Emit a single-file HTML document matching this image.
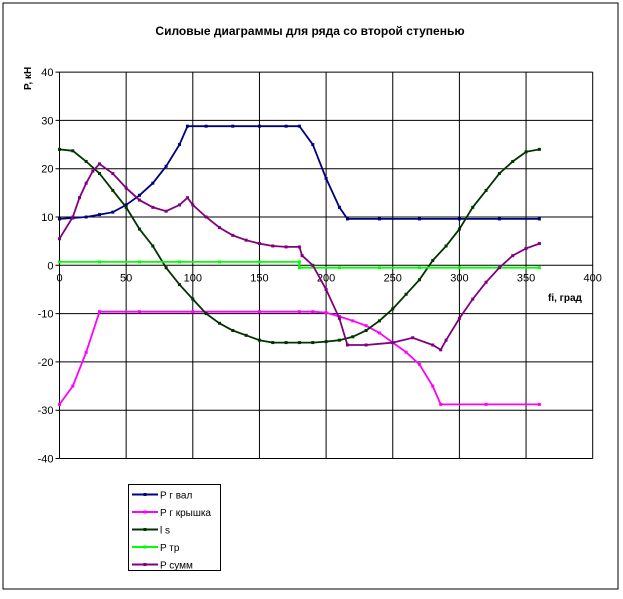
<!DOCTYPE html>
<html><head><meta charset="utf-8"><style>
body{margin:0;background:#fff;font-family:"Liberation Sans",Arial,sans-serif}
svg text{font-family:"Liberation Sans",Arial,sans-serif}
</style></head><body>
<svg id="c" width="623" height="594" xmlns="http://www.w3.org/2000/svg">
<rect x="3" y="3" width="615" height="586" fill="#fff" stroke="#000" stroke-width="1"/>
<text x="310" y="35" text-anchor="middle" font-size="12" font-weight="bold">Силовые диаграммы для ряда со второй ступенью</text>
<text transform="translate(31,90) rotate(-90)" font-size="10" font-weight="bold">P, кН</text>
<text x="548" y="301" font-size="10" font-weight="bold">fi, град</text>
<g id="grid"></g><g id="series"></g>
<g>
<rect x="128.5" y="484.5" width="92" height="86" fill="#fff" stroke="#000"/>
<g id="leg"></g>
</g>
</svg>
<script>
const xTicks=[0,50,100,150,200,250,300,350,400];
const yTicks=[40,30,20,10,0,-10,-20,-30,-40];
const seriesNames=["P г вал","P г крышка","l s","P тр","P сумм"];
const seriesColors=["#000080","#FF00FF","#003300","#00FF00","#800080"];
const pgValX=[0,10,20,30,40,50,60,70,80,90,96,110,130,150,170,180,190,200,210,216,240,270,300,330,360];
const pgValY=[9.6,9.8,10,10.5,11,12.5,14.5,17,20.5,25,28.8,28.8,28.8,28.8,28.8,28.8,25,18,12,9.6,9.6,9.6,9.6,9.6,9.6];
const pgKrX=[0,10,20,30,60,100,150,180,190,200,210,220,230,240,250,260,270,280,286,320,360];
const pgKrY=[-28.8,-25,-18,-9.6,-9.6,-9.6,-9.6,-9.6,-9.6,-9.8,-10.6,-11.5,-12.5,-14,-16,-18,-20.5,-25,-28.8,-28.8,-28.8];
const lsX=[0,10,20,30,40,50,60,70,80,90,100,110,120,130,140,150,160,170,180,190,200,210,220,230,240,250,260,270,280,290,300,310,320,330,340,350,360];
const lsY=[24,23.7,21.5,19,15.5,12,7.5,4,-0.5,-4,-7,-10,-12,-13.5,-14.5,-15.5,-16,-16,-16,-16,-15.8,-15.5,-14.8,-13.5,-11.5,-9,-6,-3,1,4,7.5,12,15.5,19,21.5,23.5,24];
const ptrX=[0,30,60,90,120,150,180,180,210,240,270,300,330,360];
const ptrY=[0.7,0.7,0.7,0.7,0.7,0.7,0.7,-0.5,-0.5,-0.5,-0.5,-0.5,-0.5,-0.5];
const psX=[0,10,15,20,25,30,40,50,60,70,80,90,96,100,110,120,130,140,150,160,170,180,182,190,200,210,216,230,250,265,280,286,290,300,310,320,330,340,350,360];
const psY=[5.5,10,14,17,19.5,21,19,16,13.5,12,11.2,12.5,14,12.5,10,7.8,6.2,5.2,4.5,4,3.8,3.8,2,0,-5,-11,-16.5,-16.5,-16,-15,-16.5,-17.5,-15.5,-11,-7,-3.5,-0.5,2,3.5,4.5];
const allX=[pgValX,pgKrX,lsX,ptrX,psX], allY=[pgValY,pgKrY,lsY,ptrY,psY];
const X=v=>59.5+v*133.3/100, Y=v=>265.3-v*4.83;
const NS="http://www.w3.org/2000/svg";
function mk(t,a,p){const e=document.createElementNS(NS,t);for(const k in a)e.setAttribute(k,a[k]);p.appendChild(e);return e;}
const g=document.getElementById('grid');
xTicks.forEach(v=>{
 const l=mk('line',{x1:X(v),x2:X(v),y1:Y(40),y2:Y(-40),stroke:'#000','stroke-width':1},g);
 
 
 const t=mk('text',{x:X(v),y:Y(0)+16,'text-anchor':'middle','font-size':11},g);t.textContent=v;
 
 
});
yTicks.forEach(v=>{
 const l=mk('line',{x1:X(0)-4,x2:X(400),y1:Y(v),y2:Y(v),stroke:'#000','stroke-width':1},g);
 
 
 const t=mk('text',{x:X(0)-6,y:Y(v)+4,'text-anchor':'end','font-size':11},g);t.textContent=v;
 
 
});
const s=document.getElementById('series');
allX.forEach((xs,i)=>{
 const pts=xs.map((x,j)=>X(x).toFixed(1)+','+Y(allY[i][j]).toFixed(1)).join(' ');
 const p=mk('polyline',{points:pts,fill:'none',stroke:seriesColors[i],'stroke-width':1.8},s);
 
 
 xs.forEach((x,j)=>{
  const m=mk('rect',{x:X(x)-1.5,y:Y(allY[i][j])-1.5,width:3,height:3,fill:seriesColors[i]},s);
  
  
 });
});
const lg=document.getElementById('leg');
seriesNames.forEach((n,i)=>{
 const y=494.5+i*17.5;
 const l=mk('line',{x1:132,x2:158,y1:y,y2:y,stroke:seriesColors[i],'stroke-width':2},lg);
 
 
 mk('rect',{x:143.5,y:y-1.5,width:3,height:3,fill:seriesColors[i]},lg);
 const t=mk('text',{x:160,y:y+4,'font-size':10},lg);t.textContent=n;
 
 
});
</script>
</body></html>
